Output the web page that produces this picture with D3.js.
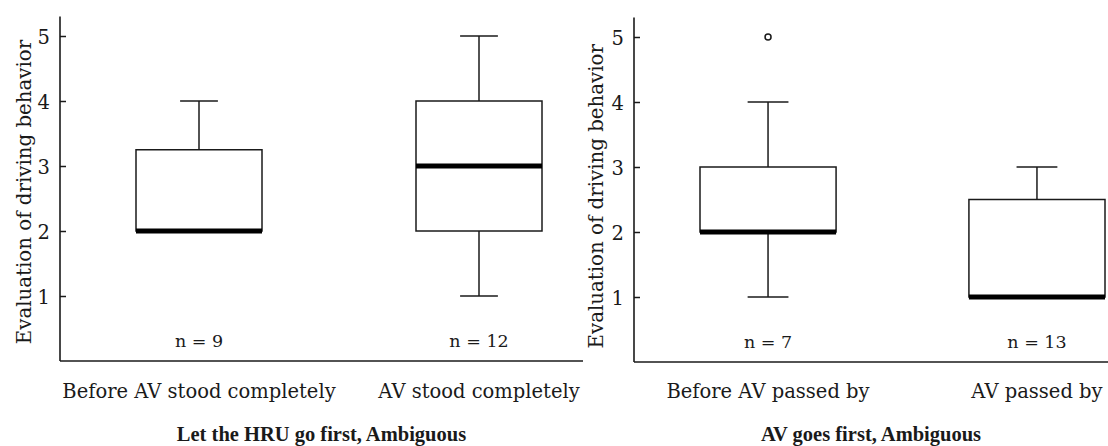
<!DOCTYPE html>
<html>
<head>
<meta charset="utf-8">
<script src="https://cdn.jsdelivr.net/npm/d3@7"></script>
<style>
  html, body { margin: 0; padding: 0; background: #fff; }
  svg { display: block; }
  text { font-family: "DejaVu Serif", serif; fill: #1a1a1a; }
  .ptitle { font-family: "Liberation Serif", "DejaVu Serif", serif; }
</style>
</head>
<body>
<svg id="chart" width="1108" height="446"></svg>
<script>
// DATA
var yTicks = [1, 2, 3, 4, 5];
var yTitle = "Evaluation of driving behavior";

var leftCats = ["Before AV stood completely", "AV stood completely"];
var leftStats = [ // min, q1, median, q3, max
	[2, 2, 2, 3.25, 4],
	[1, 2, 3, 4, 5]
];
var leftN = [9, 12];
var leftOutliers = [[], []];
var leftTitle = "Let the HRU go first, Ambiguous";

var rightCats = ["Before AV passed by", "AV passed by"];
var rightStats = [
	[1, 2, 2, 3, 4],
	[1, 1, 1, 2.5, 3]
];
var rightN = [7, 13];
var rightOutliers = [[5], []];
var rightTitle = "AV goes first, Ambiguous";

var svg = d3.select("#chart");
var ink = "#1a1a1a";

// one boxplot panel
function panel(p) {
	var g = svg.append("g");

	var y = d3.scaleLinear().domain([0, 5.3]).range([p.y0, p.y0 - 5.3 * 65]);
	var x = d3.scaleBand().domain(p.cats).range(p.band).paddingInner(p.pad);

	// y axis, ticks pointing inward
	var yAxis = d3.axisRight(y).tickValues(yTicks).tickSize(6).tickFormat(d3.format("d"));
	var ya = g.append("g")
		.attr("transform", "translate(" + p.ax0 + ",0)")
		.call(yAxis);
	ya.select(".domain").remove();
	ya.selectAll(".tick line").attr("stroke", ink).attr("stroke-width", 1.5);
	ya.selectAll(".tick text")
		.attr("x", -10)
		.attr("text-anchor", "end")
		.style("font-size", "19.5px")
		.attr("dy", "0.36em");

	// axis lines
	g.append("line")
		.attr("x1", p.ax0).attr("x2", p.ax0)
		.attr("y1", y(5.3)).attr("y2", y(0))
		.attr("stroke", ink).attr("stroke-width", 1.6);
	g.append("line")
		.attr("x1", p.ax0).attr("x2", p.ax1)
		.attr("y1", y(0)).attr("y2", y(0))
		.attr("stroke", ink).attr("stroke-width", 1.6);

	// y title
	g.append("text")
		.attr("transform", "translate(" + p.titleX + "," + y(p.titleMid) + ")rotate(-90)")
		.attr("text-anchor", "middle")
		.style("font-size", "19.8px")
		.text(yTitle);

	var bw = x.bandwidth();
	var boxes = g.selectAll(".box")
		.data(p.stats)
		.enter().append("g")
		.attr("class", "box")
		.attr("transform", function(d, i) { return "translate(" + x(p.cats[i]) + ",0)"; });

	// whiskers
	boxes.append("line")
		.attr("x1", bw / 2).attr("x2", bw / 2)
		.attr("y1", function(d) { return y(d[4]); })
		.attr("y2", function(d) { return y(d[3]); })
		.attr("stroke", ink).attr("stroke-width", 1.5);
	boxes.append("line")
		.attr("x1", bw / 2).attr("x2", bw / 2)
		.attr("y1", function(d) { return y(d[1]); })
		.attr("y2", function(d) { return y(d[0]); })
		.attr("stroke", ink).attr("stroke-width", 1.5);
	// caps
	boxes.selectAll(".cap")
		.data(function(d) { return [d[0], d[4]].filter(function(v, k) { return k === 0 ? v < d[1] : v > d[3]; }); })
		.enter().append("line")
		.attr("x1", bw / 2 - bw * 0.15).attr("x2", bw / 2 + bw * 0.15)
		.attr("y1", function(v) { return y(v); })
		.attr("y2", function(v) { return y(v); })
		.attr("stroke", ink).attr("stroke-width", 1.5);
	// box
	boxes.append("rect")
		.attr("x", 0).attr("width", bw)
		.attr("y", function(d) { return y(d[3]); })
		.attr("height", function(d) { return y(d[1]) - y(d[3]); })
		.attr("fill", "#fff")
		.attr("stroke", ink).attr("stroke-width", 1.5);
	// median
	boxes.append("line")
		.attr("x1", 0).attr("x2", bw)
		.attr("y1", function(d) { return y(d[2]); })
		.attr("y2", function(d) { return y(d[2]); })
		.attr("stroke", "#000").attr("stroke-width", 5);
	// outliers
	boxes.selectAll(".out")
		.data(function(d, i) { return p.outliers[i]; })
		.enter().append("circle")
		.attr("cx", bw / 2)
		.attr("cy", function(v) { return y(v); })
		.attr("r", 3)
		.attr("fill", "#fff")
		.attr("stroke", ink).attr("stroke-width", 1.5);

	// n labels
	g.selectAll(".nlab")
		.data(p.n)
		.enter().append("text")
		.attr("x", function(d, i) { return x(p.cats[i]) + bw / 2; })
		.attr("y", y(0) - 14)
		.attr("text-anchor", "middle")
		.style("font-size", "17.5px")
		.text(function(d) { return "n = " + d; });

	// category labels
	g.selectAll(".cat")
		.data(p.cats)
		.enter().append("text")
		.attr("x", function(d) { return x(d) + bw / 2; })
		.attr("y", 398)
		.attr("text-anchor", "middle")
		.style("font-size", "19.5px")
		.text(function(d) { return d; });

	// panel title
	g.append("text")
		.attr("class", "ptitle")
		.attr("x", (p.ax0 + p.ax1) / 2)
		.attr("y", 441)
		.attr("text-anchor", "middle")
		.style("font-size", "20.5px")
		.attr("font-weight", "bold")
		.text(p.title);
}

panel({
	cats: leftCats, stats: leftStats, n: leftN, outliers: leftOutliers, title: leftTitle,
	ax0: 60, ax1: 583, y0: 361, band: [136, 542], pad: 0.55, titleX: 31, titleMid: 2.6
});
panel({
	cats: rightCats, stats: rightStats, n: rightN, outliers: rightOutliers, title: rightTitle,
	ax0: 634, ax1: 1108, y0: 362, band: [700, 1105], pad: 0.494, titleX: 603, titleMid: 2.55
});
</script>
</body>
</html>
